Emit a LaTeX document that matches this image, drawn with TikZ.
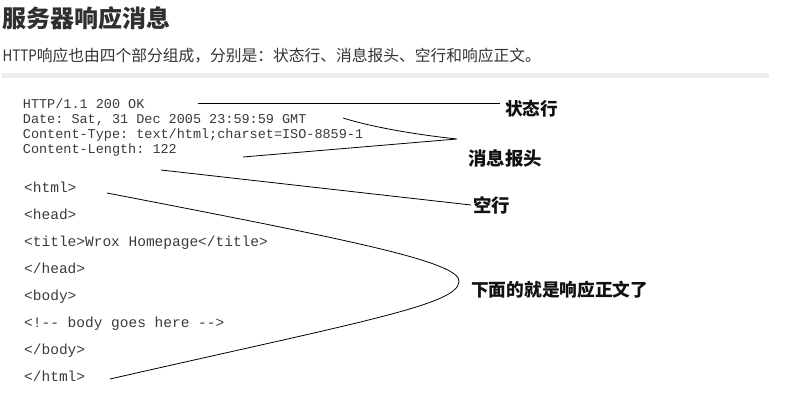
\documentclass[tikz,border=0pt]{standalone}
\usepackage{fontspec}
\setmonofont{Liberation Mono}
\newfontfamily\cjk{Noto Sans CJK SC}
\definecolor{titlec}{HTML}{2F2F2F}
\definecolor{subc}{HTML}{333333}
\definecolor{codec}{HTML}{3A3A3A}
\definecolor{labc}{HTML}{111111}
\definecolor{barc}{HTML}{ECEDEF}
\begin{document}
\begin{tikzpicture}[x=1pt,y=-1pt,
  txt/.style={inner sep=0pt,anchor=base west},
  hdr/.style={txt,text=codec,font=\fontsize{13.5}{14}\ttfamily},
  tag/.style={txt,text=codec,font=\fontsize{14.5}{15}\ttfamily},
  lab/.style={txt,text=labc,font=\cjk\bfseries\fontsize{#1}{#1}\selectfont},
  lnk/.style={draw=black,line width=0.8pt}]
\useasboundingbox (0,0) rectangle (811,420);
% heading
\node[txt,text=titlec,font=\cjk\bfseries\fontsize{24}{24}\selectfont] (title) at (2.5,27.5) {服务器响应消息};
\node[txt,text=subc,font=\cjk\fontsize{15.75}{16}\selectfont] (sub) at (2.5,62) {\scalebox{0.85}[1]{HTTP}响应也由四个部分组成，分别是：状态行、消息报头、空行和响应正文。};
\path[fill=barc] (2,73) rectangle (769,77.5);
% header lines
\node[hdr] (l1) at (22.7,108) {HTTP/1.1 200 OK};
\node[hdr] (l2) at (22.7,123) {Date: Sat, 31 Dec 2005 23:59:59 GMT};
\node[hdr] (l3) at (22.7,138) {Content-Type: text/html;charset=ISO-8859-1};
\node[hdr] (l4) at (22.7,153) {Content-Length: 122};
% body lines
\node[tag] (t1) at (24,192) {<html>};
\node[tag] (t2) at (24,219) {<head>};
\node[tag] (t3) at (24,246) {<title>Wrox Homepage</title>};
\node[tag] (t4) at (24,273) {</head>};
\node[tag] (t5) at (24,300) {<body>};
\node[tag] (t6) at (24,327) {<!-- body goes here -->};
\node[tag] (t7) at (24,354) {</body>};
\node[tag] (t8) at (24,381) {</html>};
% labels
\node[lab=17.6] (s1) at (505,115.5) {状态行};
\node[lab=18.4] (s2) at (468,165.5) {消息报头};
\node[lab=18.4] (s3) at (473,212.5) {空行};
\node[lab=17.7] (s4) at (471,296.5) {下面的就是响应正文了};
% connector ends
\coordinate (a1) at (198,103.5);
\coordinate (a2) at (500,103.5);
\coordinate (h1) at (343,118);
\coordinate (hx) at (457,139);
\coordinate (h2) at (243,157);
\coordinate (k1) at (161,170);
\coordinate (k2) at (471,205);
\coordinate (b1) at (107,193);
\coordinate (bx) at (459,282);
\coordinate (b2) at (110,379);
% connectors
\draw[lnk] (a1) -- (a2);
\draw[lnk] (h1) .. controls (375,128) and (420,135) .. (hx) -- (h2);
\draw[lnk] (k1) -- (k2);
\draw[lnk] (b1) .. controls (350,240) and (462,262) .. (bx)
  .. controls (457,305) and (360,322) .. (b2);
\end{tikzpicture}
\end{document}
